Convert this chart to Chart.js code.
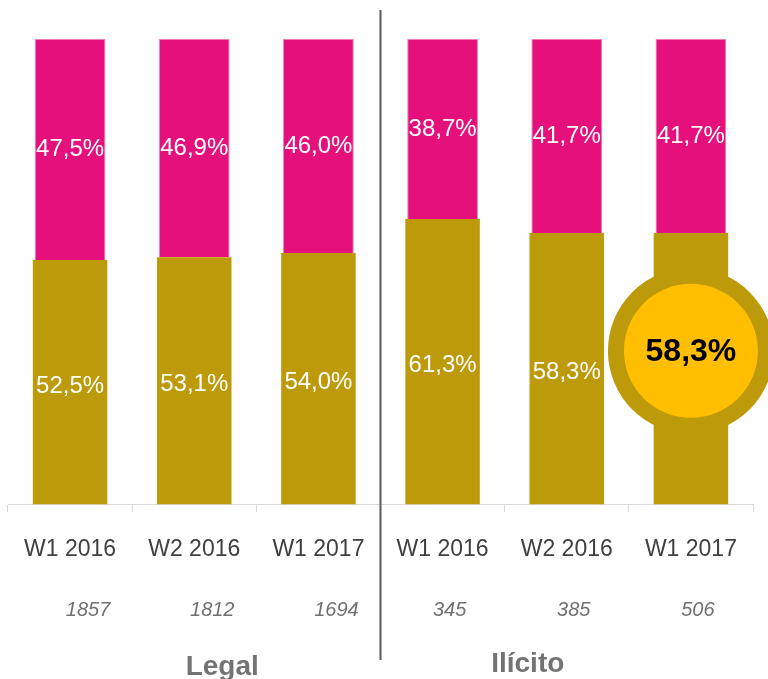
<!DOCTYPE html>
<html>
<head>
<meta charset="utf-8">
<script src="https://cdn.jsdelivr.net/npm/chart.js@4"></script>
<style>
    body { margin: 0; background: #fff; }
</style>
</head>
<body>
<canvas id="chart" width="768" height="679"></canvas>
<script>
// data
const categories = ['W1 2016', 'W2 2016', 'W1 2017', 'W1 2016', 'W2 2016', 'W1 2017'];
const groups = ['Legal', 'Ilícito'];
const sampleSizes = [1857, 1812, 1694, 345, 385, 506];
const bottomValues = [52.5, 53.1, 54.0, 61.3, 58.3, 58.3];
const topValues = [47.5, 46.9, 46.0, 38.7, 41.7, 41.7];
const highlightIndex = 5;

const OLIVE = '#BC9A09';
const MAGENTA = '#E5107C';
const YELLOW = '#FFBF00';

const fmt = v => v.toFixed(1).replace('.', ',') + '%';

// bar labels, highlight circle, separator, sample sizes, group names
const overlayPlugin = {
    id: 'overlay',
    afterDatasetsDraw(chart) {
        const ctx = chart.ctx;
        const x = chart.scales.x;
        const y = chart.scales.y;
        ctx.save();

        // segment labels
        ctx.font = '24px "Liberation Sans", Arial, sans-serif';
        ctx.fillStyle = '#fff';
        ctx.textAlign = 'center';
        ctx.textBaseline = 'middle';
        chart.data.datasets.forEach((ds, di) => {
            chart.getDatasetMeta(di).data.forEach((bar, i) => {
                if (di === 0 && i === highlightIndex) return;
                const shift = di === 0 ? 4 : 0;
                ctx.fillText(fmt(ds.data[i]), bar.x, (bar.y + bar.base) / 2 + shift);
            });
        });

        // highlight circle
        const hx = x.getPixelForValue(highlightIndex);
        const hy = y.getPixelForValue(33);
        ctx.beginPath();
        ctx.arc(hx, hy, 83, 0, Math.PI * 2);
        ctx.fillStyle = OLIVE;
        ctx.fill();
        ctx.beginPath();
        ctx.arc(hx, hy, 67, 0, Math.PI * 2);
        ctx.fillStyle = YELLOW;
        ctx.fill();
        ctx.fillStyle = '#000';
        ctx.font = 'bold 32px "Liberation Sans", Arial, sans-serif';
        ctx.fillText(fmt(bottomValues[highlightIndex]), hx, hy + 1);

        // group separator
        const sepX = (x.getPixelForValue(2) + x.getPixelForValue(3)) / 2;
        ctx.strokeStyle = '#595959';
        ctx.lineWidth = 2;
        ctx.beginPath();
        ctx.moveTo(sepX, 10);
        ctx.lineTo(sepX, 660);
        ctx.stroke();

        // sample sizes
        ctx.fillStyle = '#707070';
        ctx.font = 'italic 20px "Liberation Sans", Arial, sans-serif';
        sampleSizes.forEach((n, i) => {
            const shift = i < 3 ? 18 : 7;
            ctx.fillText(String(n), x.getPixelForValue(i) + shift, 610);
        });

        // group names
        ctx.fillStyle = '#737373';
        ctx.font = 'bold 28px "Liberation Sans", Arial, sans-serif';
        ctx.textBaseline = 'alphabetic';
        ctx.fillText(groups[0], x.getPixelForValue(1) + 28, 675);
        ctx.fillText(groups[1], x.getPixelForValue(4) - 39, 672);

        ctx.restore();
    }
};

new Chart(document.getElementById('chart'), {
    type: 'bar',
    data: {
        labels: categories,
        datasets: [
            {
                data: bottomValues,
                backgroundColor: OLIVE,
                barPercentage: 0.6,
                categoryPercentage: 1
            },
            {
                data: topValues,
                backgroundColor: MAGENTA,
                borderColor: '#F07DB5',
                borderWidth: 1,
                barPercentage: 0.57,
                categoryPercentage: 1
            }
        ]
    },
    options: {
        responsive: false,
        animation: false,
        layout: { padding: { top: 39, left: 8, right: 15, bottom: 93 } },
        plugins: {
            legend: { display: false },
            tooltip: { enabled: false }
        },
        scales: {
            x: {
                stacked: true,
                grid: {
                    drawOnChartArea: false,
                    drawTicks: true,
                    tickLength: 8,
                    offset: true,
                    color: '#D9D9D9'
                },
                border: { color: '#D9D9D9', width: 1 },
                ticks: {
                    color: '#404040',
                    padding: 23,
                    maxRotation: 0,
                    font: { size: 23, family: '"Liberation Sans", Arial, sans-serif' }
                }
            },
            y: {
                stacked: true,
                display: false,
                min: 0,
                max: 100
            }
        }
    },
    plugins: [overlayPlugin]
});
</script>
</body>
</html>
